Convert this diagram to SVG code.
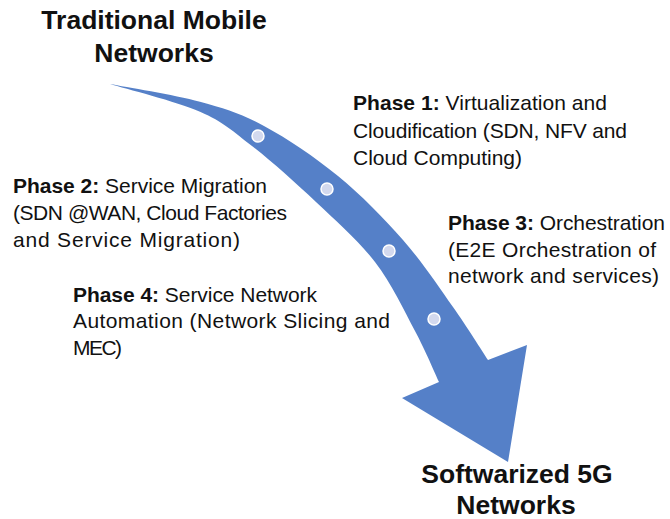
<svg xmlns="http://www.w3.org/2000/svg" width="670" height="519" viewBox="0 0 670 519">
<style>
.t{font-family:"Liberation Sans",Arial,sans-serif;fill:#111;}
.h{font-size:26.5px;font-weight:bold;text-anchor:middle;}
.p{font-size:21px;}
.b{font-weight:bold;}
.dot{fill:#D3D9EE;stroke:#FFFFFF;stroke-width:1.5;}
</style>
<rect width="670" height="519" fill="#FFFFFF"/>
<g id="connectors">
<path id="arrow" fill="#5580C8" d="M110,84 C125,86.95 174.3,94.7 200,101.7 C225.7,108.7 241,113.6 264,126 C287,138.4 314.8,157 338,176 C361.2,195 383.8,218.2 403,240 C422.2,261.8 438.8,287 453,307 C467.2,327 482.2,351.2 488,360 L527,345 L508,462 L402,398 L439,382 C435,373.5 425.7,351 415,331 C404.3,311 391.5,283.5 375,262 C358.5,240.5 336.5,221.3 316,202 C295.5,182.7 271.3,161 252,146 C232.7,131 223.7,122 200,111.7 C176.3,101.4 125,88.6 110,84 Z"/>
<circle class="dot" cx="258" cy="136" r="6"/>
<circle class="dot" cx="327" cy="189" r="6"/>
<circle class="dot" cx="389" cy="251" r="6"/>
<circle class="dot" cx="434" cy="319" r="6"/>
</g>
<g id="traditional">
<text class="t h" x="154" y="29">Traditional Mobile</text>
<text class="t h" x="154" y="62">Networks</text>
</g>
<g id="softwarized">
<text class="t h" x="517" y="483">Softwarized 5G</text>
<text class="t h" x="516" y="514">Networks</text>
</g>
<g id="phase1">
<text class="t p" x="353" y="110" textLength="254" lengthAdjust="spacing"><tspan class="b">Phase 1:</tspan> Virtualization and</text>
<text class="t p" x="353" y="138" textLength="274" lengthAdjust="spacing">Cloudification (SDN, NFV and</text>
<text class="t p" x="353" y="165" textLength="169" lengthAdjust="spacing">Cloud Computing)</text>
</g>
<g id="phase2">
<text class="t p" x="13" y="193" textLength="254" lengthAdjust="spacing"><tspan class="b">Phase 2:</tspan> Service Migration</text>
<text class="t p" x="13" y="220" textLength="274" lengthAdjust="spacing">(SDN @WAN, Cloud Factories</text>
<text class="t p" x="13" y="247" textLength="227" lengthAdjust="spacing">and Service Migration)</text>
</g>
<g id="phase3">
<text class="t p" x="448" y="230" textLength="217" lengthAdjust="spacing"><tspan class="b">Phase 3:</tspan> Orchestration</text>
<text class="t p" x="448" y="257" textLength="208" lengthAdjust="spacing">(E2E Orchestration of</text>
<text class="t p" x="448" y="283" textLength="211" lengthAdjust="spacing">network and services)</text>
</g>
<g id="phase4">
<text class="t p" x="73" y="302" textLength="244" lengthAdjust="spacing"><tspan class="b">Phase 4:</tspan> Service Network</text>
<text class="t p" x="73" y="328" textLength="317" lengthAdjust="spacing">Automation (Network Slicing and</text>
<text class="t p" x="73" y="355" textLength="49" lengthAdjust="spacing">MEC)</text>
</g>
</svg>
